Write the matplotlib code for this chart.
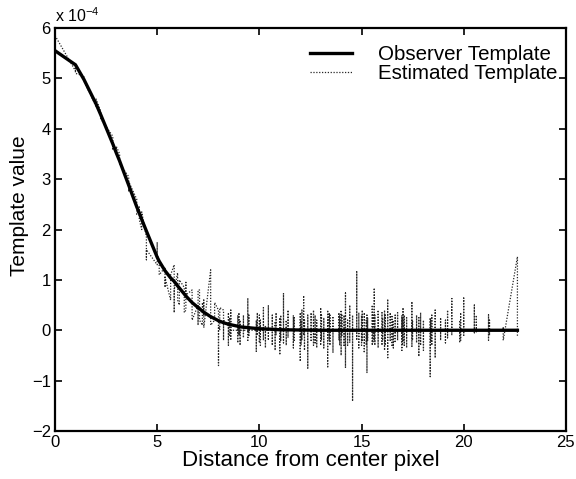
import matplotlib
matplotlib.use("Agg")
import matplotlib.pyplot as plt

plt.rcParams['font.family'] = ['Liberation Sans', 'DejaVu Sans']

# Observer template (units of 1e-4)
obs_dist = [0, 1, 1.414, 2, 2.236, 2.828, 3, 3.162, 3.606, 4, 4.123, 4.243, 4.472,
            5, 5.099, 5.385, 5.657, 5.831, 6, 6.083, 6.325, 6.403, 6.708, 7, 7.071,
            7.211, 7.280, 7.616, 7.810, 8, 8.062, 8.246, 8.485, 8.602, 8.944, 9,
            9.487, 10, 10.630, 11, 12, 13, 22.627]
obs_val = [5.55, 5.27, 4.98, 4.5, 4.28, 3.7, 3.52, 3.36, 2.88, 2.45, 2.33, 2.2, 1.97,
           1.45, 1.37, 1.18, 1.04, 0.97, 0.88, 0.84, 0.72, 0.68, 0.55, 0.45, 0.43,
           0.38, 0.36, 0.27, 0.23, 0.19, 0.18, 0.15, 0.12, 0.11, 0.08, 0.07,
           0.05, 0.03, 0.02, 0.01, 0.005, 0.0, 0.0]

# Estimated template: distance and the values observed at that distance (units of 1e-4)
est_dist = [0, 1, 1.414, 2, 2.236, 2.828, 3, 3.162, 3.606, 4, 4.123, 4.243, 4.472,
            5, 5.099, 5.385, 5.657, 5.831, 6, 6.083, 6.325, 6.403, 6.708, 7, 7.071,
            7.211, 7.280, 7.616, 7.810, 8, 8.062, 8.246, 8.485, 8.544, 8.602, 8.944,
            9, 9.055, 9.220, 9.434, 9.487, 9.849, 9.899, 10, 10.050, 10.198, 10.296,
            10.440, 10.630, 10.770, 10.817, 11, 11.045, 11.180, 11.314, 11.402, 11.662,
            11.705, 12, 12.042, 12.083, 12.166, 12.207, 12.369, 12.530, 12.649, 12.728,
            12.806, 13, 13.038, 13.153, 13.342, 13.416, 13.454, 13.601, 13.892, 13.928,
            14, 14.036, 14.142, 14.213, 14.318, 14.422, 14.560, 14.765, 14.866, 15,
            15.033, 15.133, 15.232, 15.264, 15.297, 15.524, 15.556, 15.620, 15.652,
            15.811, 16, 16.031, 16.125, 16.155, 16.279, 16.401, 16.492, 16.553, 16.643,
            16.763, 16.971, 17, 17.029, 17.088, 17.205, 17.464, 17.493, 17.692, 17.804,
            17.889, 18.028, 18.358, 18.385, 18.439, 18.601, 18.868, 19.105, 19.209,
            19.416, 19.799, 19.849, 20, 20.518, 20.616, 21.213, 21.260, 21.932, 22.627]
est_vals = [
    (5.85,), (5.15, 5.2, 5.1), (5.05, 4.95), (4.45, 4.6), (4.35, 4.2),
    (3.85, 3.6, 3.75), (3.5, 3.65), (3.5, 3.3), (3.05, 2.75, 2.95), (2.6, 2.3),
    (2.45, 2.2), (2.0, 2.35), (1.85, 1.4, 1.6),
    (1.3, 1.75, 1.5), (1.4, 1.1), (1.25, 0.85, 1.05), (0.6, 1.1), (1.3, 0.35, 0.8),
    (1.14, 0.6), (0.5, 1.0), (0.85, 0.35), (0.4, 0.95, 0.7), (0.8, 0.2),
    (0.5, 0.1, 0.8), (0.8, 0.2), (0.1, 0.55), (0.3, 0.6, 0.05), (1.2, 0.3, 0.1),
    (0.2, 0.55), (0.4, -0.7, 0.1), (0.0, 0.45), (0.4, -0.2, 0.2),
    (0.1, -0.3, 0.35, 0.05), (0.05, 0.25, -0.1, 0.0), (0.0, 0.4, -0.2, 0.0),
    (0.0, 0.3, -0.25, 0.05),
    (0.05, -0.1, 0.35, 0.0), (0.0, 0.2, -0.3, 0.0), (0.0, -0.15, 0.3, 0.0),
    (0.0, 0.64, -0.2, 0.0), (0.0, 0.3, -0.1, 0.0), (0.0, -0.42, 0.2, 0.0),
    (0.0, 0.35, -0.1, 0.0), (0.0, -0.25, 0.3, 0.0), (0.0, 0.2, -0.3, 0.0),
    (0.0, -0.2, 0.45, 0.0), (0.0, 0.1, -0.35, 0.0), (0.0, 0.5, -0.2, 0.0),
    (0.0, -0.3, 0.3, 0.0), (0.0, 0.15, -0.4, 0.0), (0.0, -0.1, 0.35, 0.0),
    (0.0, 0.25, -0.49, 0.0), (0.0, -0.2, 0.3, 0.0), (0.0, 0.74, -0.25, 0.0),
    (0.0, -0.3, 0.2, 0.0), (0.0, 0.4, -0.15, 0.0), (0.0, -0.35, 0.3, 0.0),
    (0.0, 0.25, -0.2, 0.0), (0.0, -0.62, 0.35, 0.0), (0.0, 0.2, -0.3, 0.0),
    (0.0, -0.2, 0.4, 0.0), (0.0, 0.69, -0.1, 0.0), (0.0, -0.4, 0.2, 0.0),
    (0.0, 0.3, -0.75, 0.0), (0.0, -0.2, 0.35, 0.0), (0.0, 0.4, -0.3, 0.0),
    (0.0, -0.25, 0.3, 0.0), (0.0, 0.2, -0.35, 0.0), (0.0, -0.3, 0.45, 0.0),
    (0.0, 0.3, -0.2, 0.0), (0.0, -0.35, 0.25, 0.0), (0.0, 0.4, -0.75, 0.0),
    (0.0, -0.2, 0.35, 0.0), (0.0, 0.3, -0.3, 0.0), (0.0, -0.45, 0.25, 0.0),
    (0.0, 0.35, -0.2, 0.0), (0.0, -0.3, 0.3, 0.0), (0.0, 0.4, -0.5, 0.0),
    (0.0, -0.1, 0.3, 0.0), (0.0, 0.3, -0.3, 0.0), (0.0, -0.75, 0.74, 0.0),
    (0.0, 0.2, -0.3, 0.0), (0.0, -0.25, 0.5, 0.0), (0.0, 0.3, -1.41, 0.0),
    (0.0, 1.16, -0.2, 0.0), (0.0, -0.35, 0.35, 0.0), (0.0, 0.3, -0.3, 0.0),
    (0.0, -0.2, 0.4, 0.0), (0.0, 0.35, -0.45, 0.0), (0.0, -0.3, 0.2, 0.0),
    (0.0, 0.3, -0.85, 0.0), (0.0, -0.2, 0.25, 0.0), (0.0, 0.5, -0.3, 0.0),
    (0.0, -0.25, 0.3, 0.0), (0.0, 0.84, -0.2, 0.0), (0.0, -0.3, 0.3, 0.0),
    (0.0, 0.4, -0.35, 0.0), (0.0, -0.3, 0.35, 0.0), (0.0, 0.25, -0.2, 0.0),
    (0.0, -0.4, 0.4, 0.0), (0.0, 0.3, -0.3, 0.0), (0.0, 0.62, -0.57, 0.0),
    (0.0, -0.2, 0.35, 0.0), (0.0, 0.3, -0.3, 0.0), (0.0, -0.35, 0.2, 0.0),
    (0.0, 0.3, -0.25, 0.0), (0.0, -0.2, 0.35, 0.0), (0.0, 0.3, -0.4, 0.0),
    (0.0, -0.3, 0.25, 0.0), (0.0, 0.45, -0.2, 0.0), (0.0, -0.3, 0.3, 0.0),
    (0.0, 0.25, -0.35, 0.0), (0.0, 0.57, -0.32, 0.0), (0.0, -0.2, 0.2, 0.0),
    (0.0, 0.3, -0.25, 0.0), (0.0, -0.52, 0.25, 0.0), (0.0, 0.35, -0.3, 0.0),
    (0.0, -0.4, 0.2, 0.0), (0.0, 0.25, -0.92, 0.0), (0.0, -0.2, 0.2, 0.0),
    (0.0, 0.3, -0.3, 0.0), (0.0, 0.4, -0.55, 0.0), (0.0, -0.2, 0.25, 0.0),
    (0.0, 0.2, -0.25, 0.0), (0.0, -0.15, 0.4, 0.0), (0.0, 0.63, -0.1, 0.0),
    (0.0, -0.25, 0.2, 0.0), (0.0, 0.35, -0.2, 0.0), (0.0, 0.64, -0.1, 0.0),
    (0.0, -0.05, 0.5, 0.0), (0.0, 0.3, -0.05, 0.0), (0.0, 0.31, -0.2, 0.0),
    (0.0, -0.1, 0.2, 0.0), (0.0, 0.07, -0.2), (1.46, -0.12),
]

x_ticks = [0, 5, 10, 15, 20, 25]
y_ticks = [-2, -1, 0, 1, 2, 3, 4, 5, 6]

# Flatten the estimated template (consecutive points at the same distance)
est_x, est_y = [], []
for d, vals in zip(est_dist, est_vals):
    for v in vals:
        est_x.append(d)
        est_y.append(v)

fig = plt.figure(figsize=(5.76, 4.79), dpi=100)
ax = fig.add_axes([0.0955, 0.1002, 0.887, 0.8413])

ax.plot(est_x, est_y, color='0.15', lw=0.9, linestyle=(0, (1, 1.3)),
        label='Estimated Template', zorder=2)
ax.plot(obs_dist, obs_val, color='black', lw=2.4, solid_joinstyle='miter',
        label='Observer Template', zorder=3)

ax.set_xlim(0, 25)
ax.set_ylim(-2, 6)
ax.set_xticks(x_ticks)
ax.set_yticks(y_ticks)
ax.set_xticklabels([str(t) for t in x_ticks])
ax.set_yticklabels([str(t).replace('-', '\u2212') for t in y_ticks])
ax.tick_params(direction='in', length=5, width=1.2, top=True, right=True,
               labelsize=12, pad=3)
for s in ax.spines.values():
    s.set_linewidth(1.6)

ax.set_xlabel('Distance from center pixel', fontsize=16, labelpad=0)
ax.set_ylabel('Template value', fontsize=15, labelpad=5)
ax.yaxis.set_label_coords(-0.05, 0.56)
ax.text(0.0, 1.008, 'x 10$^{\\mathregular{-4}}$', transform=ax.transAxes,
        fontsize=11.5, ha='left', va='bottom')

handles, labels = ax.get_legend_handles_labels()
leg = ax.legend(handles[::-1], labels[::-1], loc='upper right', frameon=False,
                fontsize=14.8, bbox_to_anchor=(0.983, 0.958), handlelength=2.04,
                handletextpad=1.26, labelspacing=0.0, borderaxespad=0.0,
                borderpad=0.0)

fig.savefig('out.png', dpi=100)
